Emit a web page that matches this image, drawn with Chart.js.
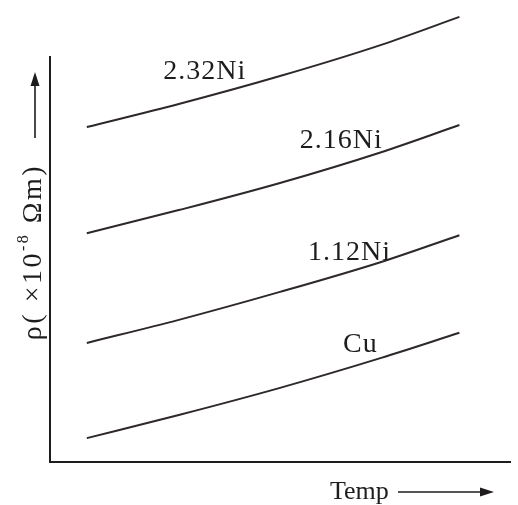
<!DOCTYPE html>
<html>
<head>
<meta charset="utf-8">
<script src="https://cdn.jsdelivr.net/npm/chart.js@4"></script>
<style>
  html, body { margin: 0; padding: 0; background: #fff; }
  canvas { display: block; }
</style>
</head>
<body>
<canvas id="graphCanvas" width="518" height="505"></canvas>
<script>
// Temperature (the original has no tick values, arbitrary units)
const temp = [8, 28, 50, 72, 89];

// Resistivity of each alloy (arbitrary units)
const ni232 = [82.7, 88.4, 95.3, 103.0, 109.9];
const ni216 = [56.5, 62.2, 68.9, 76.5, 83.2];
const ni112 = [29.4, 35.1, 42.0, 49.4, 56.0];
const cu    = [5.9, 11.6, 18.3, 25.7, 31.9];

const seriesNames = ['2.32Ni', '2.16Ni', '1.12Ni', 'Cu'];

const ink = '#1e1c1c';
const curveInk = '#2e2828';
const serif = '"Liberation Serif", "Times New Roman", serif';

// where each curve's name sits (data coords: left edge, baseline)
const labelSpots = [[24.6, 94.6], [54.3, 77.5], [56.1, 49.9], [63.7, 27.2]];

function toPoints(ys) {
    return ys.map((v, i) => ({ x: temp[i], y: v }));
}

// arrow helper
function arrow(ctx, x1, y1, x2, y2) {
    const a = Math.atan2(y2 - y1, x2 - x1);
    const len = 14, half = 4.5;
    ctx.beginPath();
    ctx.moveTo(x1, y1);
    ctx.lineTo(x2 - Math.cos(a) * len * 0.8, y2 - Math.sin(a) * len * 0.8);
    ctx.stroke();
    ctx.beginPath();
    ctx.moveTo(x2, y2);
    ctx.lineTo(x2 - Math.cos(a) * len - Math.sin(a) * half, y2 - Math.sin(a) * len + Math.cos(a) * half);
    ctx.lineTo(x2 - Math.cos(a) * len + Math.sin(a) * half, y2 - Math.sin(a) * len - Math.cos(a) * half);
    ctx.closePath();
    ctx.fill();
}

const annotate = {
    id: 'annotate',
    afterDraw(chart) {
        const ctx = chart.ctx;
        const xs = chart.scales.x, ys = chart.scales.y;
        ctx.save();
        ctx.fillStyle = ink;
        ctx.strokeStyle = ink;
        ctx.lineWidth = 1.6;

        // curve names
        ctx.font = '28px ' + serif;
        ctx.letterSpacing = '1px';
        ctx.textBaseline = 'alphabetic';
        labelSpots.forEach((p, i) => {
            ctx.fillText(seriesNames[i], xs.getPixelForValue(p[0]), ys.getPixelForValue(p[1]));
        });
        ctx.letterSpacing = '0px';

        // x axis title
        ctx.font = '26px ' + serif;
        ctx.fillText('Temp', 330, 499);
        arrow(ctx, 398, 492, 494, 492);

        // y axis title, rotated, with a raised exponent
        arrow(ctx, 35, 138, 35, 72);
        ctx.save();
        ctx.translate(34, 252);
        ctx.rotate(-Math.PI / 2);
        ctx.letterSpacing = '2.5px';
        ctx.textBaseline = 'middle';
        const parts = [['ρ( ×10', 28, 0], ['-8', 16, -10], [' Ωm)', 28, 0]];
        let w = 0;
        parts.forEach(p => { ctx.font = p[1] + 'px ' + serif; w += ctx.measureText(p[0]).width; });
        let cx = -w / 2;
        parts.forEach(p => {
            ctx.font = p[1] + 'px ' + serif;
            ctx.fillText(p[0], cx, p[2]);
            cx += ctx.measureText(p[0]).width;
        });
        ctx.restore();

        ctx.restore();
    }
};

const ctx = document.getElementById('graphCanvas').getContext('2d');

const data = {
    datasets: [ni232, ni216, ni112, cu].map((s, i) => ({
        label: seriesNames[i],
        data: toPoints(s),
        borderColor: curveInk,
        borderWidth: 2,
        pointRadius: 0,
        fill: false,
        clip: false,
        cubicInterpolationMode: 'monotone',
    })),
};

const chart = new Chart(ctx, {
    type: 'line',
    data: data,
    options: {
        responsive: false,
        animation: false,
        layout: { padding: { left: 50, top: 57, right: 8, bottom: 43 } },
        plugins: {
            legend: { display: false },
            tooltip: { enabled: false },
        },
        scales: {
            x: {
                type: 'linear', min: 0, max: 100,
                ticks: { display: false },
                grid: { display: false },
                border: { display: true, color: ink, width: 2 },
                afterFit: s => { s.height = 0; },
            },
            y: {
                type: 'linear', min: 0, max: 100,
                ticks: { display: false },
                grid: { display: false },
                border: { display: true, color: ink, width: 2 },
                afterFit: s => { s.width = 0; },
            },
        },
    },
    plugins: [annotate],
});
</script>
</body>
</html>
